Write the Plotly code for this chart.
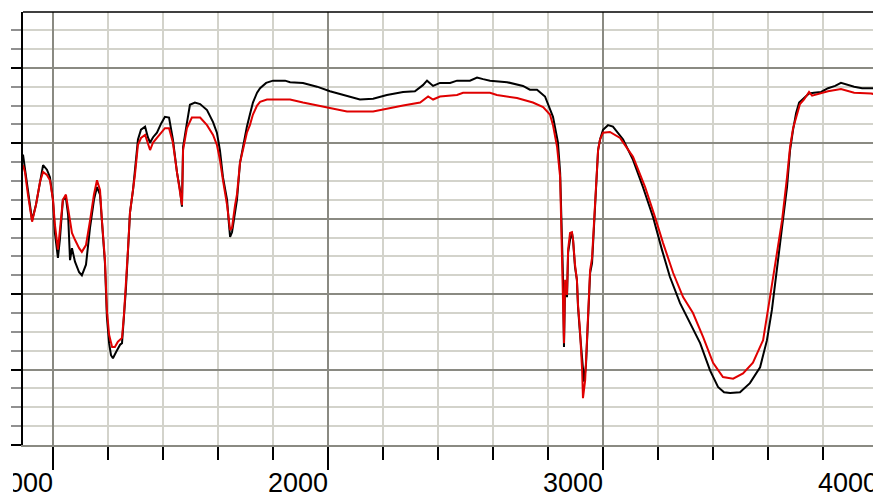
import plotly.graph_objects as go

# Wavenumber (cm-1) and transmittance-like values
black_x = [891, 905, 924, 938, 953, 964, 978, 989, 1000, 1007, 1018, 1025, 1036, 1047, 1055, 1062, 1069, 1080,
           1095, 1105, 1120, 1135, 1149, 1160, 1171, 1178, 1189, 1196, 1204, 1211, 1218, 1229, 1244, 1251, 1258,
           1265, 1273, 1280, 1291, 1298, 1309, 1320, 1335, 1345, 1353, 1364, 1378, 1393, 1407, 1422, 1436, 1451,
           1462, 1469, 1473, 1487, 1498, 1516, 1535, 1560, 1582, 1596, 1607, 1618, 1633, 1640, 1644, 1651, 1662,
           1669, 1680, 1695, 1705, 1716, 1727, 1742, 1753, 1775, 1800, 1844, 1862, 1909, 1960, 2007, 2069, 2116,
           2164, 2214, 2273, 2316, 2345, 2360, 2382, 2407, 2444, 2469, 2516, 2542, 2564, 2589, 2651, 2709, 2734,
           2760, 2789, 2807, 2818, 2825, 2836, 2844, 2851, 2854, 2858, 2862, 2869, 2873, 2880, 2887, 2891, 2898,
           2905, 2909, 2916, 2924, 2931, 2938, 2942, 2945, 2953, 2960, 2964, 2971, 2978, 2982, 2989, 3000, 3018,
           3036, 3073, 3109, 3145, 3182, 3214, 3243, 3280, 3316, 3353, 3389, 3418, 3440, 3462, 3498, 3534, 3571,
           3596, 3614, 3633, 3651, 3669, 3680, 3691, 3702, 3713, 3731, 3749, 3767, 3793, 3818, 3844, 3865, 3891,
           3913, 3942, 3964, 4000, 4007]
black_y = [38.5, 34.5, 29.8, 31.8, 35.1, 37.1, 36.5, 35.5, 32.5, 28.1, 24.8, 27.2, 32.5, 32.8, 30.5, 24.5, 26.1, 24.3,
           22.9, 22.5, 23.9, 28.9, 32.5, 34.2, 33.2, 29.4, 24.1, 17.0, 13.5, 11.9, 11.5, 12.3, 13.3, 13.5, 16.6,
           20.6, 25.9, 30.8, 33.8, 36.1, 40.5, 41.8, 42.2, 40.8, 40.1, 40.8, 41.4, 42.6, 43.5, 43.4, 40.5, 36.1,
           33.8, 31.6, 39.5, 42.7, 45.1, 45.4, 45.2, 44.4, 42.8, 41.4, 39.1, 35.5, 32.5, 29.2, 27.6, 28.2, 31.2,
           32.5, 37.4, 40.5, 42.2, 43.8, 45.4, 46.7, 47.3, 48.0, 48.3, 48.3, 48.1, 48.0, 47.5, 46.9, 46.3, 45.8,
           45.9, 46.4, 46.8, 46.9, 47.7, 48.3, 47.6, 48.0, 48.0, 48.3, 48.3, 48.7, 48.5, 48.3, 48.1, 47.6, 47.1,
           47.1, 46.2, 44.4, 43.5, 42.2, 40.1, 36.1, 26.3, 22.8, 13.0, 21.5, 19.6, 25.5, 27.2, 28.1, 27.2, 23.6,
           21.9, 18.3, 14.9, 10.9, 8.4, 10.6, 13.9, 17.5, 22.8, 24.1, 27.2, 31.6, 36.9, 39.1, 40.5, 41.8, 42.4,
           42.2, 40.5, 37.8, 34.2, 30.2, 25.9, 22.3, 18.8, 16.2, 13.5, 9.9, 7.7, 7.0, 6.9, 7.0, 8.2, 10.3,
           13.9, 17.9, 23.2, 28.9, 34.2, 39.1, 41.8, 44.0, 45.4, 46.0, 46.6, 46.7, 46.8, 47.3, 47.6, 48.0, 47.7,
           47.5, 47.3, 47.3, 47.3, 47.3]

red_x = [891, 898, 909, 924, 938, 953, 964, 978, 989, 1000, 1007, 1018, 1025, 1036, 1047, 1055, 1069, 1080, 1095,
         1105, 1120, 1135, 1149, 1160, 1171, 1178, 1189, 1196, 1204, 1215, 1225, 1236, 1251, 1258, 1265, 1273,
         1280, 1291, 1298, 1309, 1320, 1335, 1345, 1353, 1364, 1378, 1393, 1407, 1422, 1436, 1451, 1462, 1469,
         1473, 1487, 1505, 1535, 1560, 1582, 1596, 1607, 1618, 1633, 1644, 1651, 1662, 1669, 1680, 1695, 1705,
         1716, 1727, 1742, 1753, 1778, 1844, 1862, 1909, 1960, 2007, 2069, 2164, 2214, 2273, 2335, 2364, 2382,
         2407, 2469, 2491, 2589, 2614, 2687, 2745, 2782, 2807, 2818, 2833, 2844, 2851, 2854, 2858, 2862, 2869,
         2873, 2880, 2887, 2891, 2898, 2905, 2909, 2916, 2924, 2927, 2935, 2942, 2945, 2953, 2960, 2964, 2971,
         2978, 2982, 2989, 3000, 3025, 3062, 3109, 3153, 3189, 3218, 3255, 3291, 3327, 3364, 3400, 3436, 3473,
         3509, 3545, 3582, 3607, 3625, 3651, 3669, 3680, 3691, 3705, 3716, 3731, 3749, 3760, 3793, 3818, 3865,
         3913, 3975, 4000, 4004]
red_y = [37.1, 36.2, 33.2, 29.6, 31.8, 34.9, 36.2, 35.8, 35.1, 32.5, 29.2, 25.9, 28.4, 32.5, 33.2, 31.2, 28.1, 27.2,
         26.1, 25.6, 26.5, 29.8, 33.2, 35.1, 33.8, 29.8, 24.5, 17.9, 14.6, 13.0, 13.0, 13.7, 14.2, 17.2, 21.0,
         26.1, 30.8, 33.8, 35.8, 39.8, 40.7, 41.1, 39.8, 39.1, 40.1, 40.7, 41.4, 42.0, 42.0, 40.1, 36.1, 33.8,
         31.8, 39.1, 42.0, 43.4, 43.4, 42.4, 41.1, 39.8, 37.8, 35.1, 31.8, 28.5, 28.8, 31.8, 33.2, 37.4, 39.8,
         41.4, 42.4, 43.8, 45.0, 45.5, 45.8, 45.8, 45.8, 45.4, 45.0, 44.6, 44.2, 44.2, 44.6, 45.0, 45.4, 46.2,
         45.8, 46.2, 46.4, 46.7, 46.7, 46.4, 46.0, 45.4, 44.8, 43.8, 42.4, 39.5, 35.5, 25.5, 20.6, 13.5, 21.9,
         19.9, 25.9, 28.1, 28.2, 27.2, 23.9, 21.9, 18.6, 15.3, 9.9, 6.2, 8.6, 13.9, 17.5, 23.2, 24.8, 27.2,
         32.5, 36.5, 39.1, 40.5, 41.4, 41.5, 40.7, 38.2, 34.2, 30.2, 26.8, 22.8, 19.6, 17.5, 14.3, 10.9, 9.0,
         8.8, 9.5, 10.9, 13.9, 19.6, 23.6, 29.8, 35.5, 39.5, 42.0, 44.0, 45.2, 45.8, 46.8, 46.3, 46.7, 46.9,
         47.2, 46.7, 46.6, 46.4, 50.1]

x_tick_vals = [1000, 2000, 3000, 4000]
x_tick_text = ["1000", "2000", "3000", "4000"]

MAJOR_GRID = "#8a8a82"
MINOR_GRID = "#d3d3cb"

fig = go.Figure()
fig.add_trace(go.Scatter(x=black_x, y=black_y, mode="lines",
                         line=dict(color="#000000", width=2), showlegend=False))
fig.add_trace(go.Scatter(x=red_x, y=red_y, mode="lines",
                         line=dict(color="#e00000", width=2), showlegend=False))

fig.update_layout(
    template="none",
    width=873, height=488,
    margin=dict(l=15, r=1, t=4, b=51, pad=0),
    paper_bgcolor="white", plot_bgcolor="white",
    font=dict(family="Liberation Sans, Arial, sans-serif", color="black"),
    xaxis=dict(
        automargin=False,
        range=[891, 4007], tickvals=x_tick_vals, ticktext=x_tick_text,
        ticks="outside", ticklen=23, tickwidth=1.5, tickcolor="black",
        tickfont=dict(size=27, family="Liberation Sans, Arial, sans-serif", color="black"),
        ticklabelshift=-30, ticklabelstandoff=-10, ticklabeloverflow="allow",
        showgrid=True, gridcolor=MAJOR_GRID, gridwidth=2,
        showline=True, linecolor=MAJOR_GRID, linewidth=2,
        zeroline=False,
        minor=dict(dtick=200, ticks="outside", ticklen=13, tickwidth=1.5, tickcolor="black",
                   showgrid=True, gridcolor=MINOR_GRID, gridwidth=2),
    ),
    yaxis=dict(
        automargin=False,
        range=[0, 57.4], dtick=10, tick0=0,
        ticks="outside", ticklen=10, tickwidth=1.5, tickcolor="black",
        showticklabels=False,
        showgrid=True, gridcolor=MAJOR_GRID, gridwidth=2,
        showline=True, linecolor="black", linewidth=1.5,
        zeroline=False,
        minor=dict(dtick=2.5, ticks="outside", ticklen=10, tickwidth=1.5, tickcolor="#909090",
                   showgrid=True, gridcolor=MINOR_GRID, gridwidth=2),
    ),
    shapes=[
        dict(type="line", xref="paper", yref="paper", x0=0, x1=1, y0=1, y1=1,
             line=dict(color="black", width=1.5), layer="above"),
        dict(type="rect", xref="paper", yref="paper", x0=-0.03, x1=-0.0117, y0=-0.125, y1=-0.055,
             fillcolor="white", line=dict(width=0), layer="above"),
    ],
)

fig.write_html("out.html")
